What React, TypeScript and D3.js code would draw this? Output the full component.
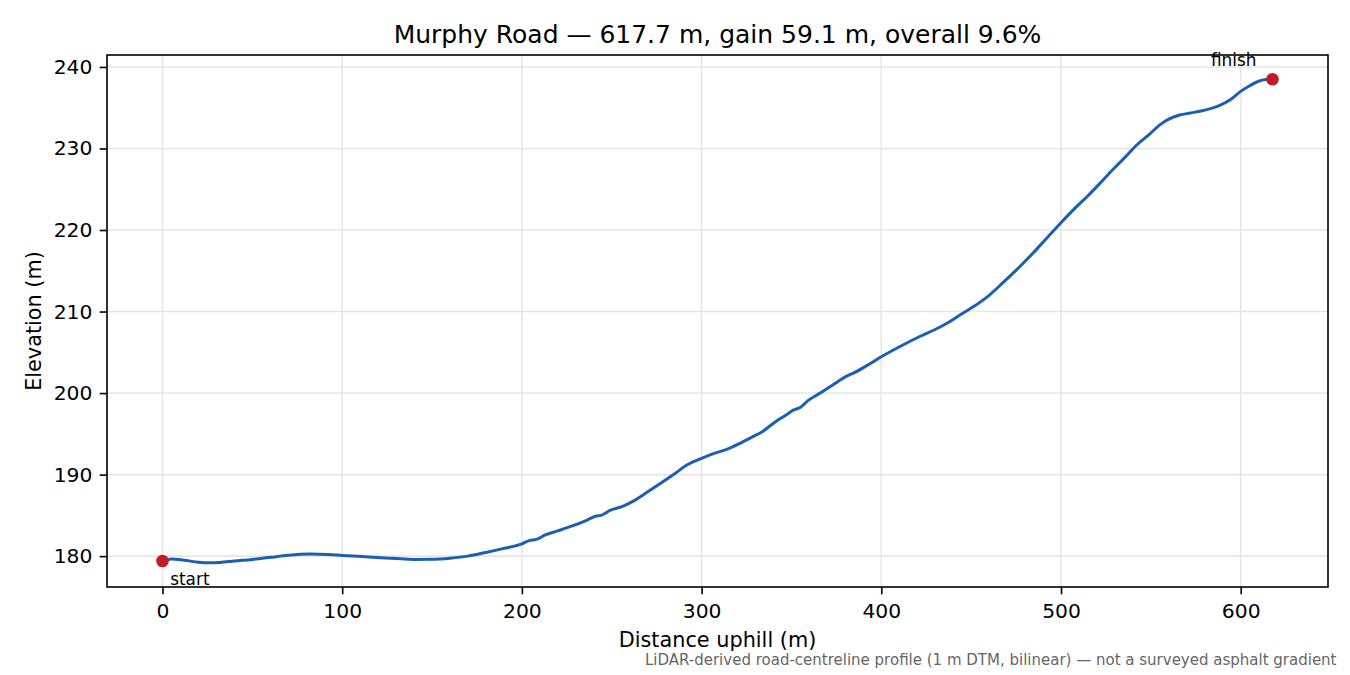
import { useEffect, useRef } from 'react';

import * as d3 from 'd3';

const width = 1350;
const height = 675;
const [mt, mr, mb, ml] = [55, 22, 88, 107];

const font = '"DejaVu Sans", sans-serif';

// profile: distance uphill (m) and elevation (m)
const distance = [
    0, 5, 12, 20, 26, 32, 40, 50, 60, 70, 82, 92, 100, 115, 130, 140, 150, 160, 170, 180, 190, 200, 204, 208,
    213, 220, 228, 236, 241, 244, 249, 256, 262, 268, 277, 285, 292, 300, 307, 314, 321, 328, 334, 340, 344,
    347, 351, 355, 359, 366, 373, 381, 385, 393, 400, 412, 422, 430, 438, 444, 452, 459, 468, 477, 485, 492,
    500, 507, 515, 522, 529, 536, 542, 549, 555, 560, 566, 572, 578, 584, 589, 595, 600, 605, 610, 614, 617.7
];
const elevation = [
    179.4, 179.65, 179.5, 179.25, 179.18, 179.22, 179.4, 179.6, 179.85, 180.1, 180.25, 180.2, 180.08, 179.9,
    179.7, 179.6, 179.62, 179.75, 180.0, 180.45, 180.95, 181.5, 181.9, 182.05, 182.6, 183.1, 183.7, 184.4,
    184.9, 185.0, 185.6, 186.1, 186.75, 187.6, 188.9, 190.1, 191.2, 192.0, 192.6, 193.1, 193.8, 194.6, 195.3,
    196.3, 196.9, 197.3, 197.9, 198.25, 199.05, 200.0, 201.0, 202.1, 202.5, 203.5, 204.45, 205.9, 207.0,
    207.8, 208.75, 209.6, 210.7, 211.8, 213.6, 215.5, 217.3, 219.0, 220.9, 222.5, 224.2, 225.8, 227.45, 229.0,
    230.4, 231.7, 232.9, 233.6, 234.1, 234.35, 234.6, 234.95, 235.35, 236.1, 237.0, 237.7, 238.25, 238.45,
    238.5
];

const xTicks = [0, 100, 200, 300, 400, 500, 600];
const yTicks = [180, 190, 200, 210, 220, 230, 240];

const title = 'Murphy Road — 617.7 m, gain 59.1 m, overall 9.6%';
const footnote = 'LiDAR-derived road-centreline profile (1 m DTM, bilinear) — not a surveyed asphalt gradient';

type Point = { d: number; e: number };

// matplotlib style 5% padding around the data
function padded([lo, hi]: [number, number]): [number, number] {
    const m = (hi - lo) * 0.05;
    return [lo - m, hi + m];
}

export default function App() {
    const svgRef = useRef<SVGSVGElement>(null);

    useEffect(() => {
        const svg = d3.select(svgRef.current);
        svg.selectAll('*').remove();

        const points: Point[] = distance.map((d, i) => ({ d, e: elevation[i] }));
        const start = points[0];
        const finish = points[points.length - 1];

        const x = d3
            .scaleLinear()
            .domain(padded(d3.extent(distance) as [number, number]))
            .range([ml, width - mr]);
        const y = d3
            .scaleLinear()
            .domain(padded(d3.extent(elevation) as [number, number]))
            .range([height - mb, mt]);

        // grid
        const grid = svg.append('g').attr('stroke', '#e6e6e6').attr('stroke-width', 1.6);
        grid.selectAll('line.gx')
            .data(xTicks)
            .join('line')
            .attr('class', 'gx')
            .attr('x1', (d) => x(d))
            .attr('x2', (d) => x(d))
            .attr('y1', mt)
            .attr('y2', height - mb);
        grid.selectAll('line.gy')
            .data(yTicks)
            .join('line')
            .attr('class', 'gy')
            .attr('x1', ml)
            .attr('x2', width - mr)
            .attr('y1', (d) => y(d))
            .attr('y2', (d) => y(d));

        // axes
        const xAxis = svg
            .append('g')
            .attr('transform', `translate(0, ${height - mb})`)
            .call(d3.axisBottom(x).tickValues(xTicks).tickSize(7.3).tickPadding(9).tickSizeOuter(0));
        const yAxis = svg
            .append('g')
            .attr('transform', `translate(${ml}, 0)`)
            .call(d3.axisLeft(y).tickValues(yTicks).tickSize(7.3).tickPadding(7.3).tickSizeOuter(0));
        [xAxis, yAxis].forEach((a) => {
            a.select('.domain').remove();
            a.selectAll('line').attr('stroke', '#000').attr('stroke-width', 1.6);
            a.selectAll('text').attr('fill', '#000').style('font-family', font).style('font-size', '20.3px');
        });

        // profile line
        const line = d3
            .line<Point>()
            .x((p) => x(p.d))
            .y((p) => y(p.e))
            .curve(d3.curveMonotoneX);
        svg.append('path')
            .datum(points)
            .attr('d', line)
            .attr('fill', 'none')
            .attr('stroke', '#1a5fb4')
            .attr('stroke-width', 3)
            .attr('stroke-linejoin', 'round')
            .attr('stroke-linecap', 'round');

        // start / finish markers
        svg.selectAll('circle')
            .data([start, finish])
            .join('circle')
            .attr('cx', (p) => x(p.d))
            .attr('cy', (p) => y(p.e))
            .attr('r', 6.3)
            .attr('fill', '#c01c28');

        svg.append('text')
            .attr('x', x(start.d) + 7.7)
            .attr('y', y(start.e) + 24)
            .style('font-family', font)
            .style('font-size', '16.9px')
            .text('start');
        svg.append('text')
            .attr('x', x(finish.d) - 16)
            .attr('y', y(finish.e) - 13)
            .attr('text-anchor', 'end')
            .style('font-family', font)
            .style('font-size', '16.9px')
            .text('finish');

        // frame
        svg.append('rect')
            .attr('x', ml)
            .attr('y', mt)
            .attr('width', width - ml - mr)
            .attr('height', height - mt - mb)
            .attr('fill', 'none')
            .attr('stroke', '#000')
            .attr('stroke-width', 1.6);

        // titles
        svg.append('text')
            .attr('x', (ml + width - mr) / 2)
            .attr('y', 43)
            .attr('text-anchor', 'middle')
            .style('font-family', font)
            .style('font-size', '25px')
            .text(title);
        svg.append('text')
            .attr('x', (ml + width - mr) / 2)
            .attr('y', 647)
            .attr('text-anchor', 'middle')
            .style('font-family', font)
            .style('font-size', '20.8px')
            .text('Distance uphill (m)');
        svg.append('text')
            .attr('transform', `translate(41, ${(mt + height - mb) / 2}) rotate(-90)`)
            .attr('text-anchor', 'middle')
            .style('font-family', font)
            .style('font-size', '20.8px')
            .text('Elevation (m)');
        svg.append('text')
            .attr('x', 1336.5)
            .attr('y', 665)
            .attr('text-anchor', 'end')
            .attr('fill', '#666666')
            .style('font-family', font)
            .style('font-size', '15px')
            .text(footnote);
    }, []);

    return (
        <div style={{ position: 'absolute', left: 0, top: 0, background: '#ffffff' }}>
            <svg ref={svgRef} width={width} height={height} style={{ display: 'block' }} />
        </div>
    );
}
